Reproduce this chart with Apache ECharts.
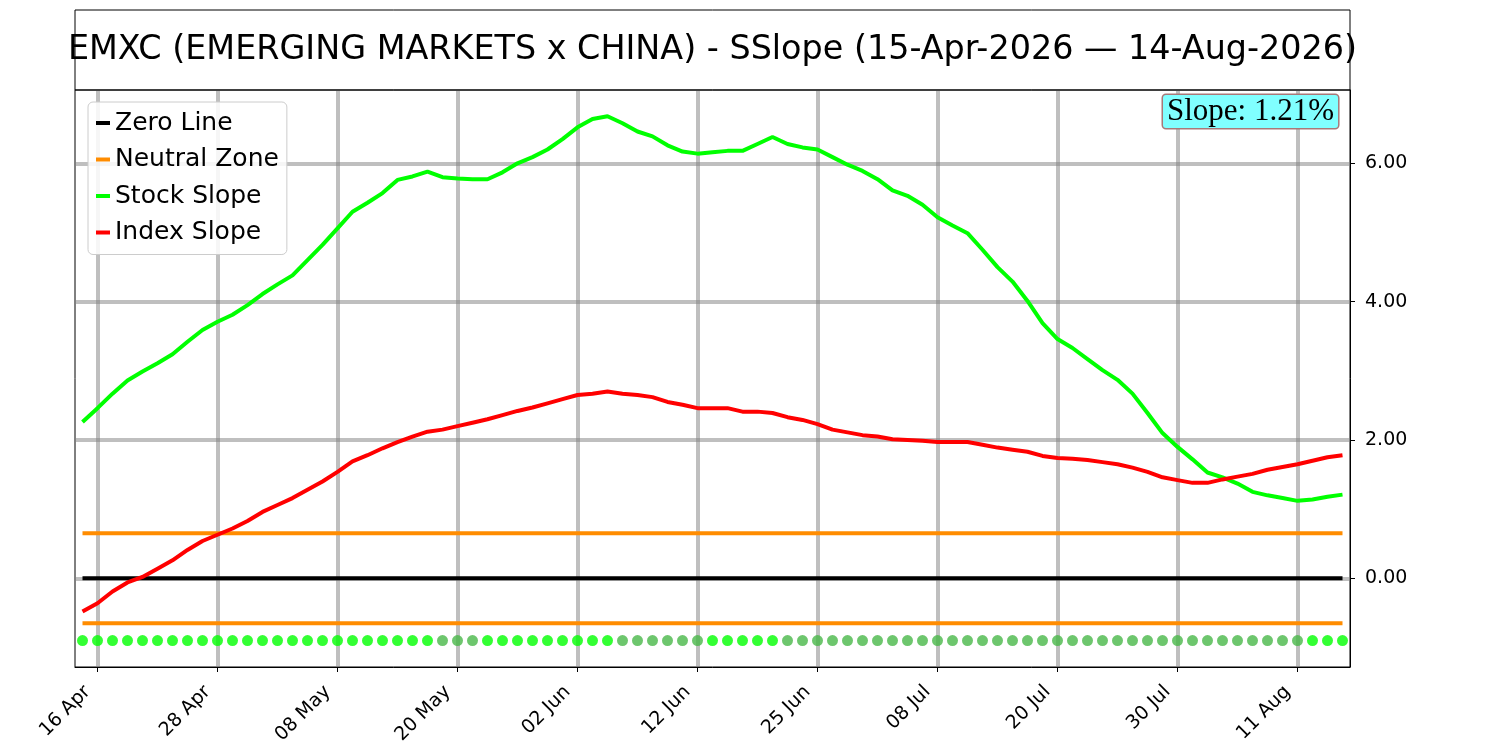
<!DOCTYPE html>
<html>
<head>
<meta charset="utf-8">
<script src="https://cdn.jsdelivr.net/npm/echarts@6/dist/echarts.min.js"></script>
<style>
html,body{margin:0;padding:0;background:#fff;}
#chart{width:1500px;height:750px;}
</style>
</head>
<body>
<div id="chart"></div>
<script>
// ---- data ----
const titleText = 'EMXC (EMERGING MARKETS x CHINA) - SSlope (15-Apr-2026 \u2014 14-Aug-2026)';
const slopeText = 'Slope: 1.21%';

const dates = [
  '15 Apr','16 Apr','17 Apr','20 Apr','21 Apr','22 Apr','23 Apr','24 Apr','27 Apr','28 Apr','29 Apr','30 Apr',
  '01 May','04 May','05 May','06 May','07 May','08 May','11 May','12 May','13 May','14 May','15 May','18 May',
  '19 May','20 May','21 May','22 May','26 May','27 May','28 May','29 May',
  '01 Jun','02 Jun','03 Jun','04 Jun','05 Jun','08 Jun','09 Jun','10 Jun','11 Jun','12 Jun','15 Jun','16 Jun',
  '17 Jun','18 Jun','22 Jun','23 Jun','24 Jun','25 Jun','26 Jun','29 Jun','30 Jun',
  '01 Jul','02 Jul','06 Jul','07 Jul','08 Jul','09 Jul','10 Jul','13 Jul','14 Jul','15 Jul','16 Jul','17 Jul',
  '20 Jul','21 Jul','22 Jul','23 Jul','24 Jul','27 Jul','28 Jul','29 Jul','30 Jul','31 Jul',
  '03 Aug','04 Aug','05 Aug','06 Aug','07 Aug','10 Aug','11 Aug','12 Aug','13 Aug','14 Aug'
];

const stockSlope = [
  2.26,2.46,2.67,2.86,2.99,3.11,3.24,3.42,3.59,3.71,3.81,3.95,
  4.11,4.25,4.38,4.60,4.82,5.06,5.30,5.43,5.57,5.76,5.81,5.88,
  5.80,5.78,5.77,5.77,5.87,6.00,6.09,6.20,
  6.35,6.52,6.64,6.68,6.58,6.46,6.39,6.26,6.17,6.14,6.16,6.18,
  6.18,6.28,6.38,6.28,6.23,6.20,6.09,5.98,5.89,
  5.77,5.61,5.53,5.40,5.22,5.10,4.99,4.75,4.50,4.29,4.01,3.69,
  3.46,3.33,3.17,3.01,2.87,2.67,2.39,2.10,1.90,1.72,
  1.53,1.46,1.37,1.25,1.20,1.16,1.12,1.14,1.18,1.21
];

const indexSlope = [
  -0.48,-0.36,-0.19,-0.06,0.02,0.14,0.26,0.41,0.54,0.63,0.72,0.83,
  0.96,1.06,1.16,1.28,1.40,1.54,1.69,1.78,1.88,1.97,2.05,2.12,
  2.15,2.20,2.25,2.30,2.36,2.42,2.47,2.53,
  2.59,2.65,2.67,2.70,2.67,2.65,2.62,2.55,2.51,2.46,2.46,2.46,
  2.41,2.41,2.39,2.33,2.29,2.23,2.15,2.11,2.07,
  2.05,2.01,2.00,1.99,1.97,1.97,1.97,1.93,1.89,1.86,1.83,1.77,
  1.74,1.73,1.71,1.68,1.65,1.60,1.54,1.46,1.42,1.38,
  1.38,1.43,1.47,1.51,1.57,1.61,1.65,1.70,1.75,1.78
];

// 1 = strong signal (bright dot), 0 = weak signal (dim dot)
const signal = [
  1,1,1,1,1,1,1,1,1,1,1,1,1,1,1,1,1,1,1,1,1,1,1,1,
  0,0,0,
  1,1,1,1,1,1,1,1,1,
  0,0,0,0,0,0,
  1,1,1,1,1,
  0,0,0,0,0,0,0,0,0,0,0,0,0,0,0,0,0,0,0,0,0,0,0,0,0,0,0,0,0,0,0,0,0,0,0,
  1,1,1
];

const zeroLevel = 0;
const neutralLevel = 0.65;
const signalLevel = -0.9;
const yTicks = [0, 2, 4, 6];
const yMin = -1.282, yMax = 7.06;
const labelEvery = 8, labelStart = 1;

// ---- chart ----
const chart = echarts.init(document.getElementById('chart'), null, {renderer: 'canvas'});
const showIdx = (i) => i % labelEvery === labelStart;
const FONT = 'DejaVu Sans';

const option = {
  animation: false,
  backgroundColor: '#fff',
  grid: {left: 75, right: 150, top: 90, bottom: 83, show: true, borderColor: '#000', borderWidth: 1, containLabel: false},
  graphic: [
    {type: 'rect', shape: {x: 75, y: 10, width: 1275, height: 80}, style: {fill: 'none', stroke: '#000', lineWidth: 1}, z: 10},
    {type: 'text', x: 712.5, y: 50, style: {text: titleText, font: '33.4px "DejaVu Sans"', fill: '#000', textAlign: 'center', textVerticalAlign: 'middle'}, z: 10},
    {type: 'text', x: 1163, y: 95, style: {text: slopeText, font: '31px "Liberation Serif"', fill: '#000', textAlign: 'left', textVerticalAlign: 'top',
      backgroundColor: '#80ffff', borderColor: '#a87878', borderWidth: 1.5, borderRadius: 3, padding: [1, 4, 1, 4]}, z: 20}
  ],
  legend: {
    data: ['Zero Line', 'Neutral Zone', 'Stock Slope', 'Index Slope'],
    orient: 'vertical', left: 88, top: 102,
    padding: [8.5, 8, 9.5, 8], itemGap: 11.5,
    itemWidth: 14, itemHeight: 4, icon: 'rect',
    backgroundColor: 'rgba(255,255,255,0.85)', borderColor: '#cccccc', borderWidth: 1, borderRadius: 5,
    textStyle: {fontFamily: FONT, fontSize: 25, color: '#000'},
    z: 20
  },
  xAxis: {
    type: 'category', data: dates, boundaryGap: true,
    axisLine: {show: true, onZero: false, lineStyle: {color: '#000', width: 1}},
    axisTick: {show: true, alignWithLabel: true, interval: showIdx, length: 5, lineStyle: {color: '#000', width: 1}},
    axisLabel: {show: true, interval: showIdx, rotate: 45, fontFamily: FONT, fontSize: 19, color: '#000', margin: 12, padding: [0, 14, 0, 0]},
    splitLine: {show: true, alignWithLabel: true, interval: showIdx, lineStyle: {color: 'rgba(128,128,128,0.5)', width: 4}}
  },
  yAxis: {
    type: 'value', position: 'right', min: yMin, max: yMax,
    axisLine: {show: true, lineStyle: {color: '#000', width: 1}},
    axisTick: {show: true, length: 5, customValues: yTicks, lineStyle: {color: '#000'}},
    axisLabel: {show: true, customValues: yTicks, fontFamily: FONT, fontSize: 19, color: '#000', margin: 15,
      formatter: (v) => v.toFixed(2)},
    splitLine: {show: true, lineStyle: {color: 'rgba(128,128,128,0.5)', width: 4}}
  },
  series: [
    {name: 'Zero Line', type: 'line', data: dates.map(() => zeroLevel), symbol: 'none',
      lineStyle: {color: '#000', width: 4}, itemStyle: {color: '#000'}, z: 3},
    {name: 'Neutral Zone', type: 'line', data: dates.map(() => neutralLevel), symbol: 'none',
      lineStyle: {color: '#ff8c00', width: 4}, itemStyle: {color: '#ff8c00'}, z: 3},
    {name: 'Neutral Zone', type: 'line', data: dates.map(() => -neutralLevel), symbol: 'none',
      lineStyle: {color: '#ff8c00', width: 4}, itemStyle: {color: '#ff8c00'}, z: 3},
    {name: 'Stock Slope', type: 'line', data: stockSlope, symbol: 'none',
      lineStyle: {color: '#00ff00', width: 4}, itemStyle: {color: '#00ff00'}, z: 4},
    {name: 'Index Slope', type: 'line', data: indexSlope, symbol: 'none',
      lineStyle: {color: '#ff0000', width: 4}, itemStyle: {color: '#ff0000'}, z: 4},
    {name: 'Signal', type: 'scatter', data: signal.map(() => signalLevel), symbol: 'circle', symbolSize: 11,
      itemStyle: {color: (p) => signal[p.dataIndex] ? '#00ff00' : '#48b848'}, z: 3}
  ]
};
chart.setOption(option);
</script>
</body>
</html>
